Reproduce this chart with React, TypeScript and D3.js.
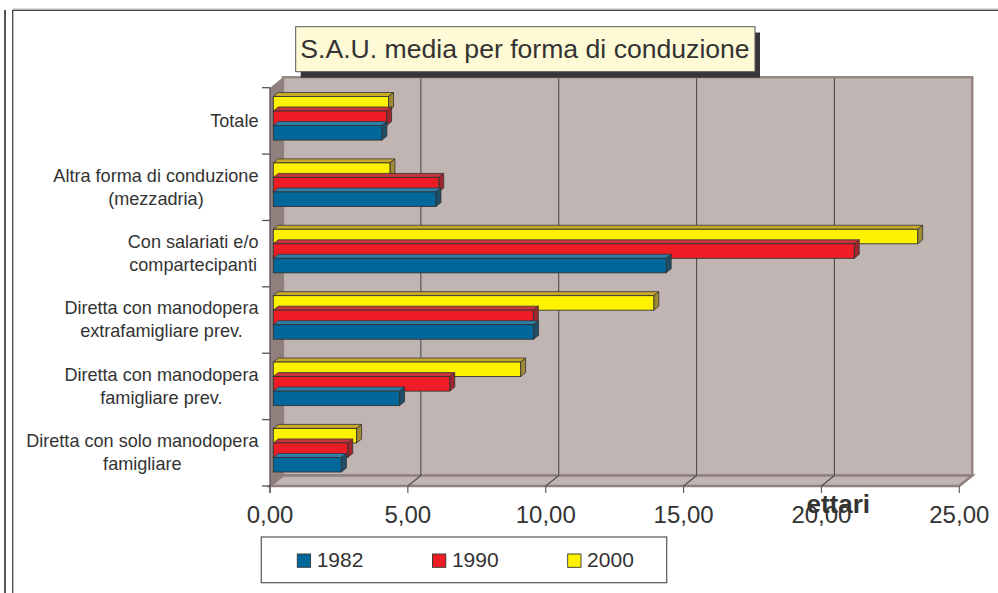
import React from "react";
import * as d3 from "d3";

const categories: string[][] = [
  ["Totale"],
  ["Altra forma di conduzione", "(mezzadria)"],
  ["Con salariati e/o", "compartecipanti"],
  ["Diretta con manodopera", "extrafamigliare prev."],
  ["Diretta con manodopera", "famigliare prev."],
  ["Diretta con solo manodopera", "famigliare"],
];
const seriesNames = ["1982", "1990", "2000"];
const values1982 = [3.94, 5.9, 14.25, 9.44, 4.58, 2.47];
const values1990 = [4.11, 6.0, 21.07, 9.43, 6.4, 2.7];
const values2000 = [4.18, 4.23, 23.37, 13.8, 8.97, 3.02];
const tickValues = [0, 5, 10, 15, 20, 25];
const tickLabels = ["0,00", "5,00", "10,00", "15,00", "20,00", "25,00"];
const title = "S.A.U. media per forma di conduzione";
const axisTitle = "ettari";

const seriesValues = [values1982, values1990, values2000];
const faceColors = ["#02679a", "#ee1d25", "#fff200"];
const topColors = ["#2f7fab", "#c8343a", "#c9ab2b"];
const sideColors = ["#1e4e68", "#a0262d", "#a08a33"];

const FONT = "'Liberation Sans', Arial, sans-serif";

function measure(text: string, font: string): number {
  const c = document.createElement("canvas");
  const ctx = c.getContext("2d")!;
  ctx.font = font;
  return ctx.measureText(text).width;
}

export default function App() {
  const W = 998;
  const H = 593;
  // plot geometry
  const x0 = 270;
  const x1 = 959.3;
  const yTop = 87.7;
  const yBot = 486;
  const DX = 13;
  const DY = -10.5;
  const barDX = 3.3;
  const barDY = -2.6;
  const bDepthX = 5;
  const bDepthY = -4;

  const xScale = d3.scaleLinear().domain([0, 25]).range([x0, x1]);
  const catIdx = categories.map((_, i) => String(i));
  const yBand = d3.scaleBand<string>().domain(catIdx).range([yTop, yBot]).padding(0);
  const bw = yBand.bandwidth();
  const inner = d3
    .scaleBand<string>()
    .domain(["2", "1", "0"])
    .range([0, bw])
    .paddingInner(0)
    .paddingOuter(0.785);

  const catFontSize = 18.1;
  const catFont = `${catFontSize}px 'Liberation Sans', Arial, sans-serif`;
  const labelRight = 258.5;

  const backLeft = x0 + DX;
  const backRight = x1 + DX;
  const backTop = yTop + DY;
  const backBot = yBot + DY;

  const bars: React.ReactNode[] = [];
  categories.forEach((_, ci) => {
    const bandY = yBand(String(ci))!;
    [0, 1, 2].forEach((si) => {
      const v = seriesValues[si][ci];
      const y = bandY + inner(String(si))! + barDY;
      const h = inner.bandwidth();
      const xa = xScale(0) + barDX;
      const xb = xScale(v) + barDX;
      const top = `${xa},${y} ${xa + bDepthX},${y + bDepthY} ${xb + bDepthX},${y + bDepthY} ${xb},${y}`;
      const side = `${xb},${y} ${xb + bDepthX},${y + bDepthY} ${xb + bDepthX},${y + h + bDepthY} ${xb},${y + h}`;
      bars.push(
        <g key={`b${ci}-${si}`}>
          <polygon points={top} fill={topColors[si]} stroke="#333" strokeWidth={0.8} strokeLinejoin="round" />
          <polygon points={side} fill={sideColors[si]} stroke="#333" strokeWidth={0.8} strokeLinejoin="round" />
          <rect x={xa} y={y} width={xb - xa} height={h} fill={faceColors[si]} stroke="#333" strokeWidth={0.9} />
        </g>
      );
    });
  });
  const barsOrdered = [...bars].reverse();

  return (
    <svg
      width={W}
      height={H}
      style={{ position: "absolute", left: 0, top: 0, background: "#fff" }}
      fontFamily={FONT}
    >
      {/* outer frame */}
      <line x1={5} y1={10} x2={5} y2={H} stroke="#555" strokeWidth={2} />
      <line x1={12.7} y1={10} x2={12.7} y2={H} stroke="#444" strokeWidth={1.3} />
      <line x1={13} y1={9} x2={998} y2={9} stroke="#bbb" strokeWidth={1} />
      <line x1={12} y1={10.3} x2={998} y2={10.3} stroke="#444" strokeWidth={1.3} />

      {/* back wall */}
      <rect x={backLeft} y={backTop} width={backRight - backLeft} height={backBot - backTop} fill="#c0b5b2" stroke="#8f807d" strokeWidth={2.2} />
      {/* left wall */}
      <polygon
        points={`${x0},${yTop} ${backLeft},${backTop} ${backLeft},${backBot} ${x0},${yBot}`}
        fill="#8f807d"
      />
      {/* floor */}
      <polygon
        points={`${x0},${yBot} ${backLeft},${backBot} ${backRight},${backBot} ${x1},${yBot}`}
        fill="#c0b5b2"
        stroke="#8f807d"
        strokeWidth={2.5}
        strokeLinejoin="miter"
      />
      {/* gridlines */}
      {tickValues
        .filter((t) => t > 0 && t < 25)
        .map((t) => (
          <g key={`g${t}`}>
            <line x1={xScale(t) + DX} y1={backTop + 1} x2={xScale(t) + DX} y2={backBot} stroke="#4d4d4d" strokeWidth={1.1} />
            <line x1={xScale(t)} y1={yBot} x2={xScale(t) + DX} y2={backBot} stroke="#4d4d4d" strokeWidth={1.1} />
          </g>
        ))}

      {/* bars */}
      {barsOrdered}

      {/* left axis */}
      <line x1={x0} y1={yTop} x2={x0} y2={yBot + 7} stroke="#555" strokeWidth={1.3} />
      {[...catIdx.map((c) => yBand(c)!), yBot].map((y, i) => (
        <line key={`lt${i}`} x1={x0 - 8} y1={y} x2={x0} y2={y} stroke="#555" strokeWidth={1.3} />
      ))}
      {/* bottom ticks */}
      {tickValues.map((t) => (
        <line key={`bt${t}`} x1={xScale(t)} y1={yBot} x2={xScale(t)} y2={yBot + 7} stroke="#555" strokeWidth={1.1} />
      ))}
      {tickValues.map((t, i) => (
        <text key={`tl${t}`} x={xScale(t)} y={522.5} textAnchor="middle" fontSize={24} fill="#333">
          {tickLabels[i]}
        </text>
      ))}

      {/* category labels */}
      {categories.map((lines, ci) => {
        const c = yBand(String(ci))! + bw / 2;
        const maxW = Math.max(...lines.map((l) => measure(l, catFont)));
        const cx = labelRight - maxW / 2;
        const first = c - (lines.length - 1) * 11.5 + 5.8;
        return (
          <text key={`cl${ci}`} x={cx} textAnchor="middle" fontSize={catFontSize} fill="#333">
            {lines.map((l, li) => (
              <tspan key={li} x={cx} y={first + li * 23}>
                {l}
              </tspan>
            ))}
          </text>
        );
      })}

      {/* axis title */}
      <text x={838.3} y={512.7} textAnchor="middle" fontSize={26} fontWeight="bold" fill="#333">
        {axisTitle}
      </text>

      {/* title */}
      <rect x={300.7} y={32.5} width={459.3} height={45.2} fill="#38363a" />
      <rect x={295.7} y={26.7} width={459.3} height={45} fill="#fffad6" stroke="#555" strokeWidth={1} />
      <text x={300.3} y={57.8} fontSize={26.6} fill="#333">
        {title}
      </text>

      {/* legend */}
      <rect x={261.3} y={537} width={405.4} height={45.7} fill="#fff" stroke="#555" strokeWidth={1.2} />
      {seriesNames.map((s, i) => {
        const lx = 297.3 + i * 135.2;
        return (
          <g key={`lg${s}`}>
            <rect x={lx} y={554} width={13.3} height={13.3} fill={faceColors[i]} stroke="#333" strokeWidth={0.9} />
            <text x={lx + 19.4} y={567.3} fontSize={21} fill="#333">
              {s}
            </text>
          </g>
        );
      })}
    </svg>
  );
}
